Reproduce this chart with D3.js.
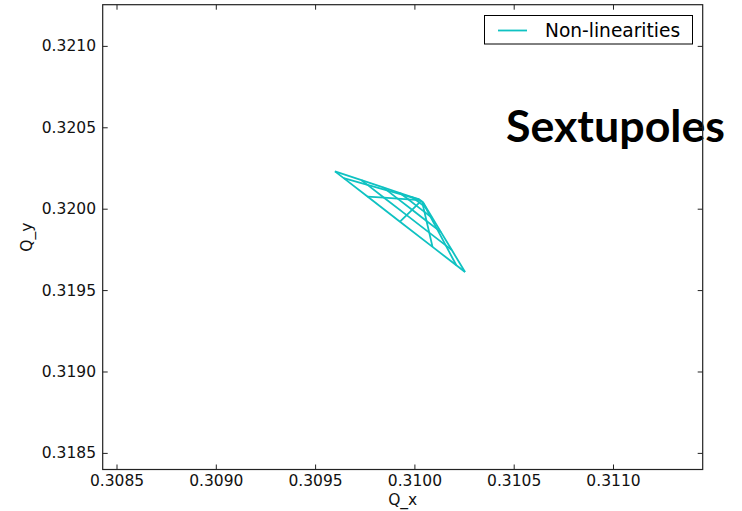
<!DOCTYPE html>
<html>
<head>
<meta charset="utf-8">
<script src="https://cdn.jsdelivr.net/npm/d3@7"></script>
<style>
  html, body { margin: 0; padding: 0; background: #ffffff; }
  svg { display: block; }
</style>
</head>
<body>
<div id="chart"></div>
<script>
// ---- data ----
const amplitudes = [1, 2, 3, 4, 5, 6];            // sigma
const angles = [0, 15, 30, 45, 60, 75, 90];        // degrees
// tunes per angle (rows) and amplitude (columns)
const qxByAngle = [
  [0.3100249, 0.3099884, 0.3099277, 0.3098428, 0.3097335, 0.3096000],
  [0.3100261, 0.3099933, 0.3099387, 0.3098623, 0.3097640, 0.3096439],
  [0.3100294, 0.3100066, 0.3099687, 0.3099155, 0.3098472, 0.3097637],
  [0.3100340, 0.3100248, 0.3100096, 0.3099883, 0.3099610, 0.3099275],
  [0.3100385, 0.3100430, 0.3100506, 0.3100611, 0.3100747, 0.3100913],
  [0.3100418, 0.3100563, 0.3100805, 0.3101144, 0.3101579, 0.3102111],
  [0.3100431, 0.3100612, 0.3100915, 0.3101339, 0.3101884, 0.3102550]
];
const qyByAngle = [
  [0.3200569, 0.3200717, 0.3200963, 0.3201307, 0.3201749, 0.3202290],
  [0.3200558, 0.3200671, 0.3200859, 0.3201123, 0.3201462, 0.3201876],
  [0.3200526, 0.3200545, 0.3200576, 0.3200620, 0.3200676, 0.3200745],
  [0.3200483, 0.3200373, 0.3200190, 0.3199933, 0.3199603, 0.3199200],
  [0.3200440, 0.3200202, 0.3199804, 0.3199247, 0.3198530, 0.3197655],
  [0.3200409, 0.3200076, 0.3199521, 0.3198744, 0.3197745, 0.3196524],
  [0.3200397, 0.3200030, 0.3199417, 0.3198560, 0.3197458, 0.3196110]
];
const xTicks = [0.3085, 0.3090, 0.3095, 0.3100, 0.3105, 0.3110];
const yTicks = [0.3185, 0.3190, 0.3195, 0.3200, 0.3205, 0.3210];
const xLimits = [0.3084305, 0.3114517];
const yLimits = [0.318398, 0.321253];
const seriesName = "Non-linearities";
const annotation = "Sextupoles";
const xLabel = "Q_x";
const yLabel = "Q_y";

// ---- layout ----
const W = 742, H = 511;
const pLeft = 102.7, pRight = 702.7, pTop = 4.7, pBottom = 469.5;
const lineColor = "#0fc2c2";
const font = "'DejaVu Sans', sans-serif";

const svg = d3.select("#chart").append("svg")
  .attr("width", W).attr("height", H);
svg.append("rect").attr("width", W).attr("height", H).attr("fill", "#fff");

const x = d3.scaleLinear().domain(xLimits).range([pLeft, pRight]);
const y = d3.scaleLinear().domain(yLimits).range([pBottom, pTop]);

// ---- footprint ----
const line = d3.line().x(d => x(d[0])).y(d => y(d[1]));
const g = svg.append("g");
// constant-angle lines
angles.forEach((a, j) => {
  const pts = amplitudes.map((r, i) => [qxByAngle[j][i], qyByAngle[j][i]]);
  g.append("path").attr("d", line(pts))
    .attr("fill", "none").attr("stroke", lineColor)
    .attr("stroke-width", 1.8).attr("stroke-linejoin", "round");
});
// constant-amplitude lines
amplitudes.forEach((r, i) => {
  const pts = angles.map((a, j) => [qxByAngle[j][i], qyByAngle[j][i]]);
  g.append("path").attr("d", line(pts))
    .attr("fill", "none").attr("stroke", lineColor)
    .attr("stroke-width", 1.8).attr("stroke-linejoin", "round");
});

// ---- annotation ----
svg.append("text")
  .attr("x", 506).attr("y", 142)
  .attr("font-family", "Lato, 'Open Sans', sans-serif")
  .attr("font-weight", 700)
  .attr("font-size", 44)
  .attr("textLength", 219).attr("lengthAdjust", "spacingAndGlyphs")
  .attr("fill", "#000")
  .text(annotation);

// ---- legend ----
const lg = svg.append("g");
lg.append("rect").attr("x", 484.5).attr("y", 15.5).attr("width", 208).attr("height", 28.5)
  .attr("fill", "#fff").attr("stroke", "#000").attr("stroke-width", 1);
lg.append("line").attr("x1", 498).attr("x2", 527).attr("y1", 30.5).attr("y2", 30.5)
  .attr("stroke", lineColor).attr("stroke-width", 1.8);
lg.append("text").attr("x", 545).attr("y", 37)
  .attr("font-family", font).attr("font-size", 18.6).attr("fill", "#000")
  .text(seriesName);

// ---- axes ----
const fmt = d3.format(".4f");
function styleAxis(sel) {
  sel.select(".domain").remove();
  sel.selectAll(".tick line").attr("stroke", "#222").attr("stroke-width", 1);
  sel.selectAll(".tick text").attr("font-family", font).attr("font-size", 15.5).attr("fill", "#111");
}
svg.append("g").attr("transform", `translate(0,${pBottom})`)
  .call(d3.axisBottom(x).tickValues(xTicks).tickFormat(fmt).tickSizeInner(-5).tickSizeOuter(0).tickPadding(5.5))
  .call(styleAxis);
svg.append("g").attr("transform", `translate(0,${pTop})`)
  .call(d3.axisTop(x).tickValues(xTicks).tickFormat("").tickSizeInner(-5).tickSizeOuter(0))
  .call(styleAxis);
svg.append("g").attr("transform", `translate(${pLeft},0)`)
  .call(d3.axisLeft(y).tickValues(yTicks).tickFormat(fmt).tickSizeInner(-5).tickSizeOuter(0).tickPadding(6.7))
  .call(styleAxis);
svg.append("g").attr("transform", `translate(${pRight},0)`)
  .call(d3.axisRight(y).tickValues(yTicks).tickFormat("").tickSizeInner(-5).tickSizeOuter(0))
  .call(styleAxis);

// frame
svg.append("rect").attr("x", pLeft).attr("y", pTop)
  .attr("width", pRight - pLeft).attr("height", pBottom - pTop)
  .attr("fill", "none").attr("stroke", "#222").attr("stroke-width", 1.2);

// axis labels
svg.append("text").attr("x", (pLeft + pRight) / 2).attr("y", 504.5)
  .attr("text-anchor", "middle").attr("font-family", font).attr("font-size", 15.5).attr("fill", "#111")
  .text(xLabel);
svg.append("text").attr("transform", `translate(32,${(pTop + pBottom) / 2}) rotate(-90)`)
  .attr("text-anchor", "middle").attr("font-family", font).attr("font-size", 15.5).attr("fill", "#111")
  .text(yLabel);
</script>
</body>
</html>
